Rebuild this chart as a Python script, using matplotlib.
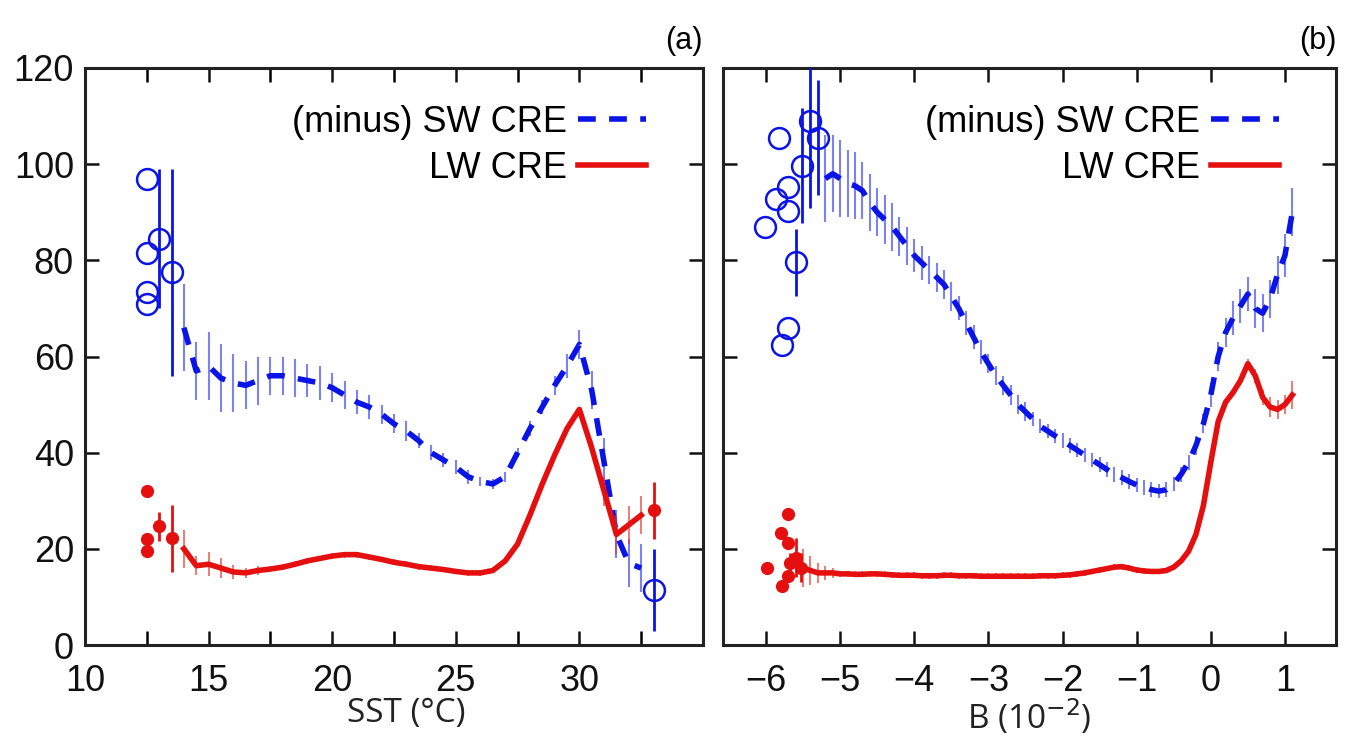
import numpy as np
import matplotlib
matplotlib.use("Agg")
import matplotlib.pyplot as plt
from matplotlib.lines import Line2D
from matplotlib.ticker import MultipleLocator

plt.rcParams["font.family"] = ["Liberation Sans", "DejaVu Sans"]

# ---------------- panel (a): binned by SST ----------------
sst = np.arange(14.0, 33.0, 0.5)
sw_a = [66, 57, 58, 55.5, 54.5, 54, 55, 56, 56, 55.5, 55, 54.5, 53.5, 52, 50.5,
        49.5, 48, 46, 44.5, 42.5, 40, 38.5, 37, 35, 34, 33.5, 35, 40, 45, 49.5,
        54, 58, 62.5, 53, 38, 23, 17, 16]
sw_a_err = [9, 6, 7, 7, 6, 5, 5, 4, 4, 4, 3.5, 3.5, 3, 3, 2.5, 2.5, 2, 2, 2, 1.5,
            1.5, 1.5, 1.5, 1.5, 1, 1, 1, 1, 1.5, 1.5, 2, 2.5, 3, 4, 5, 5, 5, 5]
lw_a = [20, 16.5, 16.8, 16, 15.2, 15, 15.5, 15.8, 16.2, 16.8, 17.5, 18, 18.5,
        18.8, 18.8, 18.3, 17.8, 17.2, 16.8, 16.3, 16, 15.7, 15.3, 15, 15, 15.5,
        17.5, 21, 27, 33.5, 39.5, 45, 49, 41, 32, 23, 25, 27]
lw_a_err = [4, 2, 2.5, 2, 1.5, 1, 1, 0.6, 0.6, 0.6, 0.6, 0.6, 0.6, 0.6, 0.6,
            0.6, 0.6, 0.6, 0.6, 0.6, 0.6, 0.6, 0.6, 0.6, 0.6, 0.6, 0.6, 0.6,
            0.6, 0.6, 0.6, 0.6, 0.6, 1.5, 3, 4, 4, 4]

# sparse bins (open circles / dots)
sw_a_pts_x = [12.5, 12.5, 12.5, 12.5, 13.0, 13.5, 33.0]
sw_a_pts_y = [97, 81.5, 73.5, 71, 84.5, 77.5, 11.5]
sw_a_pts_err = [0, 0, 0, 0, 14.5, 21.5, 8.5]
lw_a_pts_x = [12.5, 12.5, 12.5, 13.0, 13.5, 33.0]
lw_a_pts_y = [32, 22, 19.5, 24.7, 22.2, 28]
lw_a_pts_err = [0, 0, 0, 3, 7, 6]

# ---------------- panel (b): binned by B ----------------
b_sw = np.round(np.arange(-5.2, 1.15, 0.1), 2)
sw_b = [97, 98, 97, 96, 95.5, 94.5, 92, 90, 88.5, 87,
        85, 83, 81, 79.5, 78, 76.5, 75, 72.5, 70, 67,
        64, 61, 58.5, 56, 54, 52, 50, 48.5, 47, 45.5,
        44.5, 43.5, 42.5, 41.5, 40.5, 39.5, 38.5, 37.5, 36.5, 35.5,
        34.8, 34, 33.3, 32.8, 32.3, 32, 32.3, 33.5, 35.5, 38,
        41.5, 46, 52, 60, 65, 68, 70.5, 73, 70, 69,
        72, 77, 81, 90]
sw_b_err = [9, 8, 8, 7, 7, 6, 6, 5, 5, 5,
            4, 4, 3.5, 3.5, 3, 3, 3, 3, 2.5, 2.5,
            2.5, 2.5, 2, 2, 2, 2, 2, 2, 1.5, 1.5,
            1.5, 1.5, 1.5, 1.5, 1.5, 1.5, 1.5, 1.5, 1.5, 1.5,
            1.5, 1.5, 1.5, 1.5, 1.5, 1.5, 1.5, 1.5, 1.5, 1.5,
            2, 2, 2.5, 3, 3, 3.5, 3.5, 3.5, 4, 4,
            4, 4, 4.5, 5]
b_lw = np.round(np.arange(-5.5, 1.15, 0.1), 2)
lw_b = [16, 15.5, 15, 15, 15, 14.8, 14.8, 14.7, 14.7, 14.8,
        14.8, 14.7, 14.6, 14.5, 14.5, 14.5, 14.4, 14.4, 14.4, 14.5,
        14.5, 14.4, 14.4, 14.4, 14.3, 14.3, 14.3, 14.3, 14.3, 14.3,
        14.3, 14.3, 14.4, 14.4, 14.4, 14.5, 14.6, 14.8, 15.0, 15.3,
        15.6, 15.9, 16.2, 16.3, 16.0, 15.6, 15.4, 15.3, 15.3, 15.5,
        16.2, 17.5, 19.5, 23, 29, 38, 46.5, 50.5, 52.5, 55,
        58.5, 56, 51.5, 49.5, 49, 50, 52]
lw_b_err = [4, 3, 2, 1.5, 1] + [0.6] * 55 + [1, 1.5, 1.5, 2, 2, 2, 3]

sw_b_pts_x = [-6.02, -5.82, -5.86, -5.71, -5.71, -5.52, -5.41, -5.30, -5.59, -5.71, -5.79]
sw_b_pts_y = [87, 105.5, 92.8, 95.3, 90.3, 99.7, 108.9, 105.5, 79.6, 66, 62.4]
sw_b_pts_err = [0, 0, 0, 0, 0, 12, 18, 12, 7, 0, 0]
lw_b_pts_x = [-5.98, -5.79, -5.80, -5.70, -5.70, -5.67, -5.70, -5.60, -5.53]
lw_b_pts_y = [16.1, 12.3, 23.4, 27.2, 21.3, 17.1, 14.4, 18.2, 16.1]
lw_b_pts_err = [0, 0, 0, 0, 0, 2, 0, 4, 3]

BLUE = "#0a14e6"
RED = "#e60f0f"
BLUE_ERR = (0.2, 0.25, 0.95, 0.65)
RED_ERR = (0.92, 0.2, 0.15, 0.7)
DASH = (0, (3.2, 2.4))

fig = plt.figure(figsize=(13.56, 7.53), dpi=100)
ax_a = fig.add_axes([0.0627, 0.1434, 0.4557, 0.7663])
ax_b = fig.add_axes([0.5332, 0.1434, 0.4521, 0.7663])


def draw(ax, xs, sw, sw_err, xl, lw, lw_err, spx, spy, spe, lpx, lpy, lpe):
    ax.errorbar(xs, sw, yerr=sw_err, color=BLUE, lw=4.0, ls=DASH,
                ecolor=BLUE_ERR, elinewidth=1.5, capsize=0, zorder=3)
    ax.errorbar(xl, lw, yerr=lw_err, color=RED, lw=4.0, ecolor=RED_ERR,
                elinewidth=1.3, capsize=0, zorder=4)
    ax.errorbar(spx, spy, yerr=spe, fmt="o", mfc="none", mec=BLUE, ms=15,
                mew=1.8, ecolor=BLUE, elinewidth=2, capsize=0, zorder=3)
    ax.errorbar(lpx, lpy, yerr=lpe, fmt="o", mfc=RED, mec=RED, ms=8.5,
                ecolor=RED, elinewidth=2, capsize=0, zorder=4)
    ax.set_ylim(0, 120)
    ax.yaxis.set_major_locator(MultipleLocator(20))
    ax.tick_params(direction="in", length=10, width=1.8, top=True, right=True,
                   labelsize=26, colors="#111111")
    ax.tick_params(which="minor", direction="in", length=10, width=1.8,
                   top=True, right=True)
    for s in ax.spines.values():
        s.set_linewidth(2.2)
        s.set_color("#222222")
    handles = [Line2D([], [], color=BLUE, lw=4.0, ls=DASH),
               Line2D([], [], color=RED, lw=4.0)]
    ax.legend(handles, ["(minus) SW CRE", "LW CRE"], loc="upper right",
              bbox_to_anchor=(0.984, 1.017), frameon=False, markerfirst=False,
              fontsize=26, handlelength=1.9, handletextpad=0.3,
              labelspacing=0.3, borderaxespad=0.9)


draw(ax_a, sst, sw_a, sw_a_err, sst, lw_a, lw_a_err,
     sw_a_pts_x, sw_a_pts_y, sw_a_pts_err, lw_a_pts_x, lw_a_pts_y, lw_a_pts_err)
ax_a.set_xlim(10, 35)
ax_a.xaxis.set_major_locator(MultipleLocator(5))
ax_a.xaxis.set_minor_locator(MultipleLocator(2.5))
ax_a.set_xticks([10, 15, 20, 25, 30])
ax_a.tick_params(axis="x", pad=14)
ax_a.tick_params(axis="y", pad=8)
ax_a.set_xlabel("SST (°C)", fontsize=24, family="Open Sans", color="#222222",
                labelpad=2)
ax_a.xaxis.set_label_coords(0.52, -0.09)

draw(ax_b, b_sw, sw_b, sw_b_err, b_lw, lw_b, lw_b_err,
     sw_b_pts_x, sw_b_pts_y, sw_b_pts_err, lw_b_pts_x, lw_b_pts_y, lw_b_pts_err)
ax_b.set_xlim(-6.58, 1.69)
ax_b.set_xticks(range(-6, 2))
ax_b.set_xticklabels(["\u22126", "\u22125", "\u22124", "\u22123", "\u22122",
                      "\u22121", "0", "1"])
ax_b.tick_params(axis="x", pad=14)
ax_b.set_yticklabels([])
ax_b.set_xlabel("B (10$^{\\mathsf{-2}}$)", fontsize=24, family="Open Sans",
                color="#222222", labelpad=2)
ax_b.xaxis.set_label_coords(0.5, -0.09)

fig.text(0.5184, 0.925, "(a)", ha="right", va="bottom", fontsize=22)
fig.text(0.9853, 0.925, "(b)", ha="right", va="bottom", fontsize=22)

fig.savefig("out.png", dpi=100)
